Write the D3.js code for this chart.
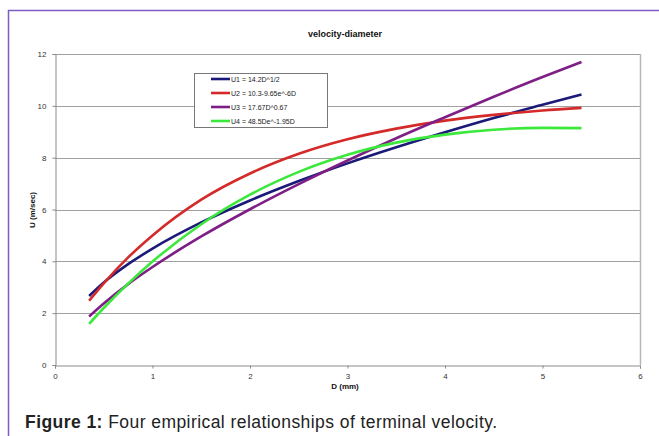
<!DOCTYPE html>
<html>
<head>
<meta charset="utf-8">
<script src="https://cdn.jsdelivr.net/npm/d3@7"></script>
<style>
  body { margin: 0; background: #fff; }
  svg { display: block; font-family: Arial, "Liberation Sans", sans-serif; }
</style>
</head>
<body>
<div id="chart"></div>
<script>
// diameter (mm) where the curves were read
var diam = [0.35, 0.5, 0.75, 1, 1.5, 2, 2.5, 3, 3.5, 4, 4.5, 5, 5.4];

// velocity values (m/sec)
var u1 = [2.66, 3.18, 3.89, 4.49, 5.50, 6.35, 7.10, 7.78, 8.40, 8.98, 9.53, 10.04, 10.44];
var u2 = [2.48, 3.15, 4.15, 5.00, 6.38, 7.39, 8.15, 8.71, 9.12, 9.43, 9.65, 9.82, 9.92];
var u3 = [1.87, 2.37, 3.12, 3.78, 4.96, 6.01, 6.98, 7.89, 8.75, 9.56, 10.35, 11.11, 11.69];
var u4 = [1.59, 2.20, 3.14, 3.99, 5.43, 6.57, 7.45, 8.11, 8.58, 8.89, 9.08, 9.15, 9.14];

var names = ["U1 = 14.2D^1/2", "U2 = 10.3-9.65e^-6D", "U3 = 17.67D^0.67", "U4 = 48.5De^-1.95D"];
var colors = ["#1b1a78", "#d42a2a", "#7e1f86", "#3be83b"];
var xTicks = [0, 1, 2, 3, 4, 5, 6];
var yTicks = [0, 2, 4, 6, 8, 10, 12];

var W = 659, H = 436;
var svg = d3.select("#chart").append("svg")
    .attr("width", W)
    .attr("height", H);

// purple frame of the figure
svg.append("line").attr("x1", 8.5).attr("x2", 8.5).attr("y1", 10).attr("y2", H)
  .attr("stroke", "#7d5cc4").attr("stroke-width", 1.5);
svg.append("line").attr("x1", 8).attr("x2", W).attr("y1", 10.5).attr("y2", 10.5)
  .attr("stroke", "#7d5cc4").attr("stroke-width", 1.5);

var plot = {left: 55, right: 640, top: 54, bottom: 365};

var x = d3.scaleLinear().domain([0, 6]).range([plot.left, plot.right]);
var y = d3.scaleLinear().domain([0, 12]).range([plot.bottom, plot.top]);

// gridlines
svg.append("g")
  .selectAll("line")
  .data(yTicks.filter(function(d) { return d > 0; }))
  .enter().append("line")
    .attr("x1", plot.left).attr("x2", plot.right)
    .attr("y1", function(d) { return Math.round(y(d)) + 0.5; })
    .attr("y2", function(d) { return Math.round(y(d)) + 0.5; })
    .attr("stroke", "#a0a0a0");

// right border of plot area
svg.append("line")
  .attr("x1", plot.right + 0.5).attr("x2", plot.right + 0.5)
  .attr("y1", plot.top).attr("y2", plot.bottom)
  .attr("stroke", "#b8b8b8").attr("stroke-width", 1.5);

// axes
var xAxis = svg.append("g")
  .attr("transform", "translate(0," + (plot.bottom + 0.5) + ")")
  .call(d3.axisBottom(x).tickValues(xTicks).tickSize(3).tickPadding(5).tickFormat(d3.format("d")));
var yAxis = svg.append("g")
  .attr("transform", "translate(" + (plot.left + 0.5) + ",0)")
  .call(d3.axisLeft(y).tickValues(yTicks).tickSize(3).tickPadding(6).tickFormat(d3.format("d")));

[xAxis, yAxis].forEach(function(a) {
  a.select(".domain").attr("stroke", "#8a8a8a");
  a.selectAll(".tick line").attr("stroke", "#8a8a8a");
  a.selectAll(".tick text").attr("fill", "#333").attr("font-size", "8px")
    .attr("font-family", "Arial, 'Liberation Sans', sans-serif");
});

// curves
var series = [u1, u2, u3, u4];
var line = d3.line()
  .x(function(d, i) { return x(diam[i]); })
  .y(function(d) { return y(d); })
  .curve(d3.curveMonotoneX);

svg.append("g")
  .selectAll("path")
  .data(series)
  .enter().append("path")
    .attr("d", line)
    .attr("fill", "none")
    .attr("stroke", function(d, i) { return colors[i]; })
    .attr("stroke-width", 2.6);

// legend
var leg = svg.append("g").attr("transform", "translate(194,73)");
leg.append("rect")
  .attr("x", 0.5).attr("y", 0.5)
  .attr("width", 133).attr("height", 54)
  .attr("fill", "#fff")
  .attr("stroke", "#777");
leg.selectAll("line.key")
  .data(names)
  .enter().append("line")
    .attr("class", "key")
    .attr("x1", 17).attr("x2", 36)
    .attr("y1", function(d, i) { return 6 + i * 14; })
    .attr("y2", function(d, i) { return 6 + i * 14; })
    .attr("stroke", function(d, i) { return colors[i]; })
    .attr("stroke-width", 2.6);
leg.selectAll("text")
  .data(names)
  .enter().append("text")
    .attr("x", 37)
    .attr("y", function(d, i) { return 8.5 + i * 14; })
    .attr("font-size", "7px")
    .attr("fill", "#222")
    .text(function(d) { return d; });

// titles
svg.append("text")
  .attr("x", 345).attr("y", 37)
  .attr("text-anchor", "middle")
  .attr("font-size", "9px")
  .attr("font-weight", "bold")
  .attr("fill", "#111")
  .text("velocity-diameter");

svg.append("text")
  .attr("x", 345).attr("y", 389)
  .attr("text-anchor", "middle")
  .attr("font-size", "8px")
  .attr("font-weight", "bold")
  .attr("fill", "#111")
  .text("D (mm)");

svg.append("text")
  .attr("transform", "translate(35,210) rotate(-90)")
  .attr("text-anchor", "middle")
  .attr("font-size", "8px")
  .attr("font-weight", "bold")
  .attr("fill", "#111")
  .text("U (m/sec)");

// caption
var cap = svg.append("text")
  .attr("x", 25).attr("y", 428)
  .attr("font-size", "17.5px")
  .attr("fill", "#222")
  .attr("textLength", 472)
  .attr("lengthAdjust", "spacing");
cap.append("tspan").attr("font-weight", "bold").text("Figure 1:");
cap.append("tspan").text(" Four empirical relationships of terminal velocity.");
</script>
</body>
</html>
